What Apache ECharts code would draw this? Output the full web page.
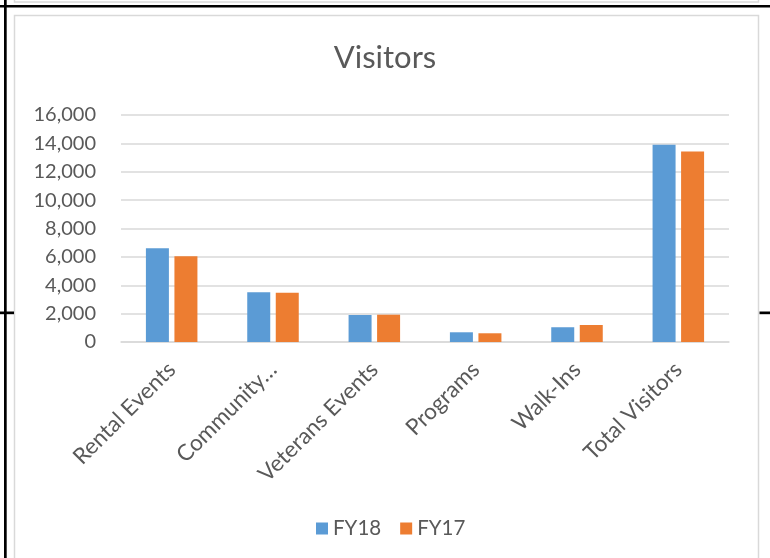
<!DOCTYPE html>
<html>
<head>
<meta charset="utf-8">
<script src="https://cdn.jsdelivr.net/npm/echarts@6/dist/echarts.min.js"></script>
<style>
html,body{margin:0;padding:0;background:#fff;}
#chart{width:770px;height:558px;}
</style>
</head>
<body>
<div id="chart"></div>
<script>
var categories = ['Rental Events', 'Community…', 'Veterans Events', 'Programs', 'Walk-Ins', 'Total Visitors'];
var fy18 = [6610, 3510, 1905, 685, 1040, 13900];
var fy17 = [6050, 3480, 1925, 615, 1200, 13430];
var seriesNames = ['FY18', 'FY17'];

var FONT = 'Lato, "Open Sans", sans-serif';
var chart = echarts.init(document.getElementById('chart'), null, {renderer: 'canvas'});
chart.setOption({
  animation: false,
  backgroundColor: '#fff',
  title: {
    text: 'Visitors',
    left: 'center',
    top: 37,
    textStyle: {fontFamily: FONT, fontSize: 31, fontWeight: 'normal', color: '#595959'}
  },
  legend: {
    data: seriesNames,
    bottom: 14,
    left: 311,
    itemWidth: 12,
    itemHeight: 12,
    itemGap: 19,
    icon: 'rect',
    textStyle: {fontFamily: FONT, fontSize: 20.5, color: '#595959'}
  },
  grid: {left: 121, right: 41, top: 115, bottom: 216, containLabel: false},
  xAxis: {
    type: 'category',
    data: categories,
    axisLine: {lineStyle: {color: '#D9D9D9', width: 1.5}},
    axisTick: {show: false},
    axisLabel: {rotate: 45, interval: 0, margin: 24, fontFamily: FONT, fontSize: 22.5, color: '#595959'}
  },
  yAxis: {
    type: 'value',
    min: 0,
    max: 16000,
    interval: 2000,
    axisLine: {show: false},
    axisTick: {show: false},
    splitLine: {lineStyle: {color: '#D9D9D9', width: 1.5}},
    axisLabel: {
      margin: 25,
      fontFamily: FONT, fontSize: 20, color: '#595959',
      formatter: function (v) { return v.toLocaleString('en-US'); }
    }
  },
  series: [
    {name: seriesNames[0], type: 'bar', data: fy18, barWidth: 23, barGap: '24%', itemStyle: {color: '#5B9BD5'}},
    {name: seriesNames[1], type: 'bar', data: fy17, barWidth: 23, barGap: '24%', itemStyle: {color: '#ED7D31'}}
  ],
  graphic: [
    {type: 'rect', shape: {x: 14.5, y: -2, width: 744, height: 4}, style: {fill: 'none', stroke: '#D9D9D9', lineWidth: 1.5}, silent: true},
    {type: 'rect', shape: {x: 14.5, y: 15.5, width: 744, height: 560}, style: {fill: 'none', stroke: '#D9D9D9', lineWidth: 1.5}, silent: true},
    {type: 'rect', shape: {x: 0, y: 5, width: 770, height: 2.5}, style: {fill: '#000'}, silent: true},
    {type: 'rect', shape: {x: 4, y: 0, width: 2.7, height: 558}, style: {fill: '#000'}, silent: true},
    {type: 'rect', shape: {x: 0, y: 311.5, width: 14, height: 2.7}, style: {fill: '#000'}, silent: true},
    {type: 'rect', shape: {x: 759.5, y: 311.5, width: 11, height: 2.7}, style: {fill: '#000'}, silent: true}
  ]
});
</script>
</body>
</html>
